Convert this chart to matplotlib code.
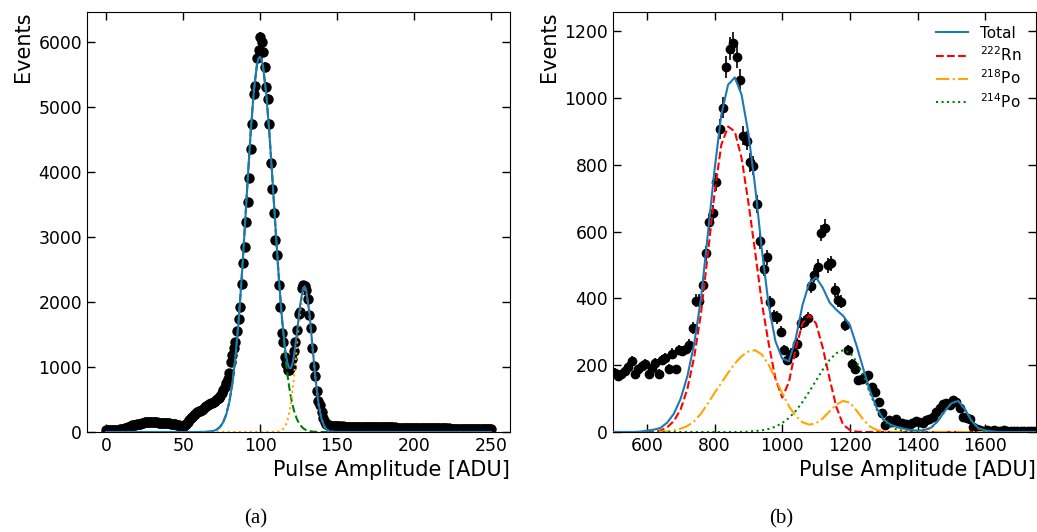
import numpy as np
import matplotlib.pyplot as plt

# (a) one bin per ADU, 0..250
bins_a = np.arange(0, 251)
counts_a = [
    25, 28, 30, 31, 32, 33, 35, 36, 38, 40,
    42, 48, 55, 62, 70, 80, 90, 100, 108, 115,
    120, 125, 130, 138, 145, 150, 155, 158, 160, 158,
    155, 152, 150, 148, 146, 145, 142, 140, 138, 136,
    135, 132, 130, 128, 125, 120, 115, 105, 95, 85,
    80, 100, 130, 160, 190, 215, 235, 255, 280, 300,
    320, 330, 345, 360, 380, 400, 410, 425, 440, 450,
    465, 480, 500, 525, 560, 600, 640, 690, 750, 820,
    910, 1080, 1190, 1290, 1390, 1560, 1740, 1930, 2270, 2600,
    2840, 3230, 3540, 3900, 4350, 4740, 5200, 5320, 5750, 5870,
    6080, 6000, 5850, 5610, 5310, 5120, 4740, 4140, 3730, 3370,
    2960, 2730, 2260, 1930, 1520, 1380, 1160, 1040, 960, 955,
    1000, 1130, 1250, 1390, 1570, 1820, 1850, 2210, 2260, 2250,
    2185, 2045, 1800, 1595, 1290, 1015, 865, 630, 480, 415,
    310, 210, 160, 130, 112, 102, 96, 92, 90, 88,
    87, 85, 86, 84, 85, 83, 84, 82, 83, 81,
    82, 80, 81, 79, 80, 79, 78, 79, 77, 78,
    76, 77, 75, 76, 74, 76, 73, 75, 74, 72,
    73, 72, 71, 72, 70, 71, 70, 69, 70, 68,
    69, 67, 68, 66, 68, 65, 66, 65, 64, 65,
    63, 64, 62, 63, 61, 62, 61, 60, 61, 59,
    60, 58, 59, 57, 58, 56, 57, 56, 55, 56,
    54, 55, 53, 54, 52, 53, 52, 51, 52, 50,
    51, 49, 50, 49, 48, 49, 47, 48, 46, 47,
    46, 45, 46, 44, 45, 44, 43, 44, 42, 43,
    42,
]

# fitted curves of (a)
fit_x_a = [0, 60, 64, 66, 68, 70, 72, 74, 76, 78,
           80, 82, 84, 86, 88, 90, 92, 94, 96, 98,
           99, 100, 101, 102, 104, 106, 108, 110, 112, 114,
           116, 117, 118, 119, 120, 121, 122, 124, 126, 128,
           129, 130, 132, 134, 136, 138, 140, 142, 144, 146,
           148, 150, 250]
total_a = [0, 0, 2, 4, 8, 19, 39, 78, 148, 268,
           459, 746, 1151, 1687, 2348, 3104, 3895, 4644, 5257, 5651,
           5746, 5769, 5722, 5611, 5211, 4620, 3912, 3164, 2447, 1823,
           1341, 1166, 1047, 983, 980, 1041, 1160, 1529, 1947, 2214,
           2242, 2186, 1853, 1341, 829, 436, 196, 75, 24, 7,
           2, 0, 0]
peak1_a = [0, 0, 2, 4, 8, 19, 39, 78, 148, 268,
           459, 746, 1151, 1687, 2348, 3104, 3895, 4644, 5257, 5651,
           5746, 5769, 5722, 5611, 5211, 4620, 3912, 3162, 2440, 1799,
           1266, 1043, 851, 685, 545, 429, 334, 195, 109, 58,
           42, 30, 15, 7, 3, 1, 0, 0, 0, 0,
           0, 0, 0]
peak2_a = [0, 0, 0, 0, 0, 0, 0, 0, 0, 0,
           0, 0, 0, 0, 0, 0, 0, 0, 0, 0,
           0, 0, 0, 0, 0, 0, 0, 2, 7, 24,
           75, 123, 196, 298, 435, 612, 826, 1334, 1838, 2156,
           2200, 2156, 1838, 1334, 826, 435, 196, 75, 24, 7,
           2, 0, 0]

# (b) 10 ADU bins
bins_b = np.arange(505, 1750, 10)
counts_b = [
    178, 168, 173, 183, 195, 213, 173, 188, 198, 203,
    173, 193, 208, 175, 215, 222, 190, 235, 188, 245,
    242, 250, 262, 312, 393, 393, 440, 535, 628, 655,
    748, 908, 971, 1093, 1148, 1165, 1123, 1055, 888, 873,
    808, 798, 683, 573, 488, 523, 388, 348, 343, 301,
    245, 215, 235, 238, 265, 325, 330, 340, 438, 470,
    495, 595, 612, 500, 505, 425, 395, 390, 320, 245,
    205, 190, 155, 160, 165, 170, 136, 121, 91, 56,
    22, 36, 31, 40, 26, 26, 24, 22, 26, 34,
    30, 28, 36, 40, 46, 61, 71, 84, 88, 81,
    96, 91, 71, 45, 41, 39, 16, 8, 5, 4,
    5, 4, 5, 4, 4, 5, 4, 4, 3, 4,
    4, 3, 4, 3, 4,
]

# fitted curves of (b) every 20 ADU from 500 to 1760
fit_x_b = np.arange(500, 1761, 20)
total_b = [0, 0, 0, 0, 1, 4, 7, 12, 28, 55,
           100, 168, 265, 400, 590, 785, 950, 1040, 1062, 1010,
           895, 735, 545, 380, 272, 220, 212, 280, 380, 447,
           463, 432, 388, 366, 348, 320, 258, 188, 122, 70,
           37, 22, 15, 10, 6, 4, 6, 13, 33, 62,
           86, 93, 68, 33, 11, 5, 2, 0, 0, 0,
           0, 0, 0, 0]
rn222_b = [0, 0, 0, 0, 0, 0, 1, 4, 14, 33,
           68, 130, 225, 355, 530, 715, 860, 915, 900, 820,
           688, 540, 385, 265, 160, 103, 150, 250, 325, 350,
           325, 252, 160, 75, 22, 6, 1, 0, 0, 0,
           0, 0, 0, 0, 0, 0, 0, 0, 0, 0,
           0, 0, 0, 0, 0, 0, 0, 0, 0, 0,
           0, 0, 0, 0]
po218_b = [0, 0, 0, 0, 0, 0, 0, 1, 2, 5,
           10, 18, 32, 55, 85, 117, 147, 177, 205, 227,
           241, 245, 232, 201, 160, 116, 77, 48, 29, 22,
           26, 41, 62, 82, 93, 88, 64, 37, 16, 6,
           2, 0, 0, 0, 0, 0, 0, 0, 0, 0,
           0, 0, 0, 0, 0, 0, 0, 0, 0, 0,
           0, 0, 0, 0]
po214_b = [0, 0, 0, 0, 0, 0, 0, 0, 0, 0,
           0, 0, 0, 0, 0, 0, 0, 0, 0, 0,
           1, 3, 5, 9, 16, 27, 42, 63, 90, 121,
           154, 187, 216, 236, 245, 238, 210, 170, 115, 66,
           35, 16, 7, 3, 1, 1, 4, 13, 33, 62,
           87, 93, 68, 33, 10, 2, 0, 0, 0, 0,
           0, 0, 0, 0]

blue = '#1f77b4'

fig = plt.figure(figsize=(10.37, 5.32), dpi=100)
ax1 = fig.add_axes([87 / 1037, 100 / 532, 423 / 1037, 420 / 532])
ax2 = fig.add_axes([613 / 1037, 100 / 532, 423 / 1037, 420 / 532])

# (a)
ax1.errorbar(bins_a, counts_a, yerr=np.sqrt(counts_a), fmt='o', color='black',
             ms=6.5, elinewidth=1.2, capsize=0, zorder=1)
ax1.plot(fit_x_a, peak1_a, '--', color='green', lw=1.5, zorder=2)
ax1.plot(fit_x_a, peak2_a, ':', color='orange', lw=1.5, zorder=2)
ax1.plot(fit_x_a, total_a, '-', color=blue, lw=1.5, zorder=4)
ax1.set_ylim(0, 6460)
ax1.set_xticks([0, 50, 100, 150, 200, 250])

# (b)
ax2.errorbar(bins_b, counts_b, yerr=np.sqrt(counts_b), fmt='o', color='black',
             ms=6, elinewidth=1.2, capsize=0, zorder=1)
ax2.plot(fit_x_b, total_b, '-', color=blue, lw=1.5, label='Total', zorder=4)
ax2.plot(fit_x_b, rn222_b, '--', color='red', lw=1.5, label='$^{222}$Rn', zorder=2)
ax2.plot(fit_x_b, po218_b, '-.', color='orange', lw=1.5, label='$^{218}$Po', zorder=2)
ax2.plot(fit_x_b, po214_b, ':', color='green', lw=1.5, label='$^{214}$Po', zorder=2)
ax2.set_xlim(500, 1750)
ax2.set_ylim(0, 1258)
ax2.set_xticks([600, 800, 1000, 1200, 1400, 1600])
ax2.legend(frameon=False, fontsize=11, loc='upper right', handlelength=2.1,
           labelspacing=0.3)

for ax in (ax1, ax2):
    ax.tick_params(direction='in', top=True, right=True, labelsize=12.4,
                   length=6, width=1)
    ax.set_xlabel('Pulse Amplitude [ADU]', fontsize=15, loc='right')
    ax.set_ylabel('Events', fontsize=15, loc='top')

fig.text(256 / 1037, 1 - 519 / 532, '(a)', ha='center', va='center',
         fontsize=15, family='Liberation Serif')
fig.text(781 / 1037, 1 - 519 / 532, '(b)', ha='center', va='center',
         fontsize=15, family='Liberation Serif')

fig.savefig('out.png', dpi=100)
